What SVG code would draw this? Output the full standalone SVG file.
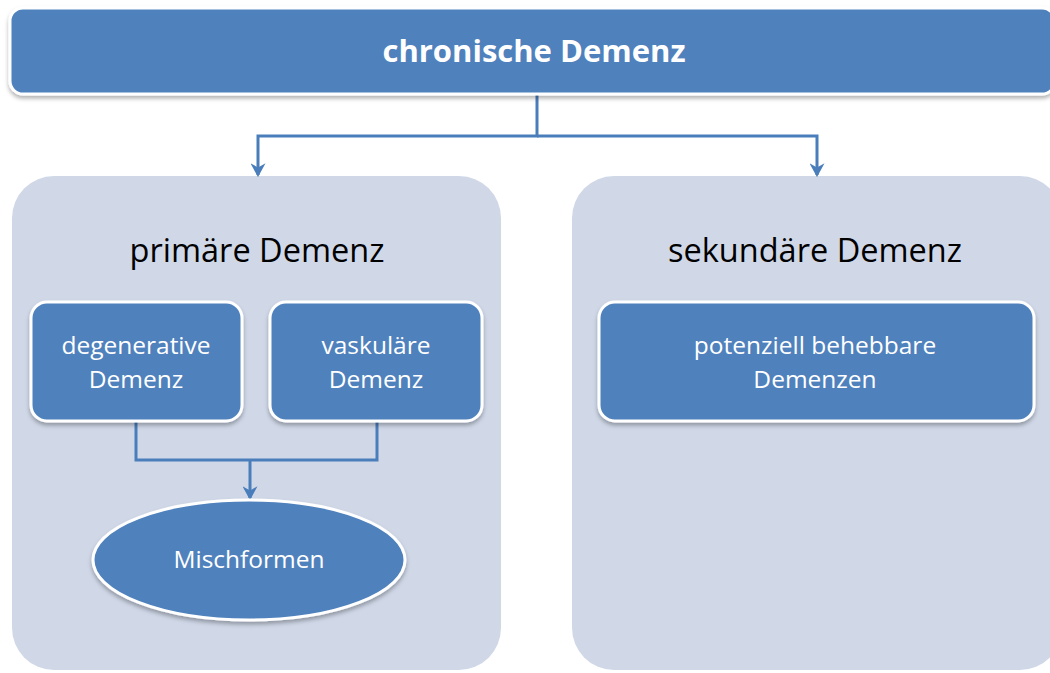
<svg xmlns="http://www.w3.org/2000/svg" width="1050" height="673" viewBox="0 0 1050 673">
<style>
.panel{fill:#D0D8E8;}
.node{fill:#4F81BD;stroke:#FFFFFF;stroke-width:3;}
.conn{fill:none;stroke:#4A7EBB;stroke-width:3;}
.title{font-family:"Open Sans","Liberation Sans",sans-serif;font-weight:bold;font-size:31px;fill:#FFFFFF;text-anchor:middle;}
.ptitle{font-family:"Open Sans","Liberation Sans",sans-serif;font-size:32.5px;fill:#000000;text-anchor:middle;}
.label{font-family:"Open Sans","Liberation Sans",sans-serif;font-size:24.5px;fill:#FFFFFF;text-anchor:middle;}
</style>
<defs>
<filter id="sh" x="-10%" y="-10%" width="120%" height="130%">
<feDropShadow dx="0" dy="3" stdDeviation="2" flood-color="#000000" flood-opacity="0.3"/>
</filter>
<marker id="arrow" viewBox="0 0 14 14" refX="12" refY="7" markerWidth="15" markerHeight="15" markerUnits="userSpaceOnUse" orient="auto">
<path d="M1,0 L14,7 L1,14 L5,7 Z" fill="#4A7EBB"/>
</marker>
</defs>
<g id="panel-primaer">
<rect class="panel" x="12" y="176" width="489" height="494" rx="42"/>
<text class="ptitle" x="257" y="262">primäre Demenz</text>
</g>
<g id="panel-sekundaer">
<rect class="panel" x="572" y="176" width="490" height="494" rx="42"/>
<text class="ptitle" x="815" y="262">sekundäre Demenz</text>
</g>
<g id="connectors">
<path class="conn" d="M537,93 V136 H258 V175" marker-end="url(#arrow)"/>
<path class="conn" d="M537,136 H817 V175" marker-end="url(#arrow)"/>
<path class="conn" d="M136,422 V460 H377 V422"/>
<path class="conn" d="M250,460 V498" marker-end="url(#arrow)"/>
</g>
<g id="node-chronisch">
<rect class="node" x="10" y="8" width="1045" height="86" rx="13" filter="url(#sh)"/>
<text class="title" x="534" y="62">chronische Demenz</text>
</g>
<g id="node-degenerativ">
<rect class="node" x="31" y="302" width="211" height="119" rx="16" filter="url(#sh)"/>
<text class="label" x="136" y="354">degenerative</text>
<text class="label" x="136" y="388">Demenz</text>
</g>
<g id="node-vaskulaer">
<rect class="node" x="270" y="302" width="212" height="119" rx="16" filter="url(#sh)"/>
<text class="label" x="376" y="354">vaskuläre</text>
<text class="label" x="376" y="388">Demenz</text>
</g>
<g id="node-misch">
<ellipse class="node" cx="249" cy="560" rx="156" ry="60" filter="url(#sh)"/>
<text class="label" x="249" y="568">Mischformen</text>
</g>
<g id="node-potenziell">
<rect class="node" x="599" y="302" width="435" height="119" rx="16" filter="url(#sh)"/>
<text class="label" x="815" y="354">potenziell behebbare</text>
<text class="label" x="815" y="388">Demenzen</text>
</g>
</svg>
